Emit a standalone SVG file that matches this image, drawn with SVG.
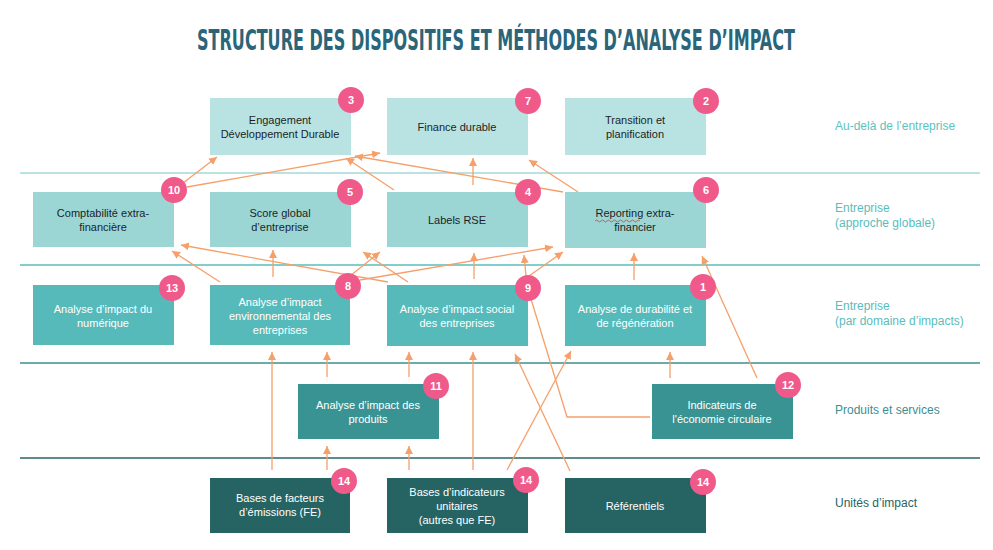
<svg xmlns="http://www.w3.org/2000/svg" width="993" height="550" viewBox="0 0 993 550">
<defs>
<marker id="ah" markerUnits="userSpaceOnUse" markerWidth="9" markerHeight="9" refX="8" refY="4" orient="auto">
<path d="M0,0 L8,4 L0,8 z" fill="#f5a06a"/>
</marker>
<style>
.t{font-family:"Liberation Sans",Arial,sans-serif;font-size:11px;text-anchor:middle}
.dk{fill:#1e1e1e}
.wh{fill:#ffffff}
.r1{fill:#b9e3e3}.r2{fill:#9bd6d5}.r3{fill:#56baba}.r4{fill:#3a9393}.r5{fill:#266464}
.bd circle{fill:#ef5a8a}
.bd text{font-family:"Liberation Sans",Arial,sans-serif;font-size:11px;font-weight:bold;fill:#fff;text-anchor:middle}
.c{fill:none;stroke:#f5a06a;stroke-width:1.3}
.a{marker-end:url(#ah)}
.lab{font-family:"Liberation Sans",Arial,sans-serif;font-size:12px}
.sep{stroke-width:1.5}
</style>
</defs>
<rect width="993" height="550" fill="#ffffff"/>
<text x="496" y="50" text-anchor="middle" font-family="'DejaVu Sans Condensed','Liberation Sans Narrow',sans-serif" font-stretch="condensed" font-weight="bold" font-size="28" fill="#2a657a" textLength="598" lengthAdjust="spacingAndGlyphs">STRUCTURE DES DISPOSITIFS ET MÉTHODES D’ANALYSE D’IMPACT</text>
<g id="separators">
<line class="sep" x1="20" y1="173" x2="980" y2="173" stroke="#a3d9d7"/>
<line class="sep" x1="20" y1="265" x2="980" y2="265" stroke="#5bbcbc"/>
<line class="sep" x1="20" y1="363" x2="980" y2="363" stroke="#3c8f8f"/>
<line class="sep" x1="20" y1="458" x2="980" y2="458" stroke="#2a6464"/>
</g>
<g id="levels" class="lab">
<text x="835" y="130" fill="#5cc3c0">Au-delà de l’entreprise</text>
<text x="835" y="212" fill="#5bbcbc">Entreprise</text>
<text x="835" y="227" fill="#5bbcbc">(approche globale)</text>
<text x="835" y="310" fill="#5bbcbc">Entreprise</text>
<text x="835" y="325" fill="#5bbcbc">(par domaine d’impacts)</text>
<text x="835" y="414" fill="#3a8f8f">Produits et services</text>
<text x="835" y="507" fill="#266464">Unités d’impact</text>
</g>
<g id="connectors">
<path class="c a" d="M183,183 L217,157"/>
<path class="c a" d="M187,187 L380,153"/>
<path class="c a" d="M394,190 L346,158"/>
<path class="c a" d="M563,192 L355,156"/>
<path class="c a" d="M473,185 L473,158"/>
<path class="c a" d="M578,192 L529,160"/>
<path class="c a" d="M220,282 L172,251"/>
<path class="c a" d="M388,282 L181,245"/>
<path class="c a" d="M273,277 L273,250"/>
<path class="c a" d="M408,282 L363,252"/>
<path class="c a" d="M350,276 L380,252"/>
<path class="c a" d="M360,280 L553,247"/>
<path class="c a" d="M474,279 L474,253"/>
<path class="c a" d="M526,276 L524,255"/>
<path class="c a" d="M529,276 L563,252"/>
<path class="c a" d="M634,280 L634,253"/>
<path class="c a" d="M757,378 L702,256"/>
<path class="c a" d="M272,470 L272,352"/>
<path class="c a" d="M327,377 L327,352"/>
<path class="c a" d="M409,377 L409,352"/>
<path class="c a" d="M473,470 L473,352"/>
<path class="c a" d="M570,471 L515,354"/>
<path class="c" d="M531,299 L567,417 L650,417"/>
<path class="c a" d="M507,470 L571,351"/>
<path class="c a" d="M670,378 L670,352"/>
<path class="c a" d="M327,470 L327,446"/>
<path class="c a" d="M409,470 L409,446"/>
</g>
<g id="n3"><rect class="r1" x="210" y="98" width="141" height="57"/><text class="t dk" x="280" y="124">Engagement</text><text class="t dk" x="280" y="138">Développement Durable</text><g class="bd"><circle cx="351" cy="100" r="13"/><text x="351" y="104">3</text></g></g>
<g id="n7"><rect class="r1" x="387" y="98" width="141" height="57"/><text class="t dk" x="457" y="131">Finance durable</text><g class="bd"><circle cx="528" cy="101" r="13"/><text x="528" y="105">7</text></g></g>
<g id="n2"><rect class="r1" x="565" y="98" width="141" height="57"/><text class="t dk" x="635" y="124">Transition et</text><text class="t dk" x="635" y="138">planification</text><g class="bd"><circle cx="706" cy="101" r="13"/><text x="706" y="105">2</text></g></g>
<g id="n10"><rect class="r2" x="33" y="192" width="141" height="55"/><text class="t dk" x="103" y="217">Comptabilité extra-</text><text class="t dk" x="103" y="231">financière</text><g class="bd"><circle cx="174" cy="190" r="13"/><text x="174" y="194">10</text></g></g>
<g id="n5"><rect class="r2" x="210" y="192" width="141" height="55"/><text class="t dk" x="280" y="217">Score global</text><text class="t dk" x="280" y="231">d’entreprise</text><g class="bd"><circle cx="350" cy="192" r="13"/><text x="350" y="196">5</text></g></g>
<g id="n4"><rect class="r2" x="387" y="192" width="141" height="55"/><text class="t dk" x="457" y="224">Labels RSE</text><g class="bd"><circle cx="528" cy="192" r="13"/><text x="528" y="196">4</text></g></g>
<g id="n6"><rect class="r2" x="565" y="192" width="141" height="56"/><text class="t dk" x="635" y="217">Reporting extra-</text><text class="t dk" x="635" y="231">financier</text><path d="M595,221 q1.5,-2 3,0 t3,0 t3,0 t3,0 t3,0 t3,0 t3,0 t3,0 t3,0 t3,0 t3,0 t3,0 t3,0 t3,0 t3,0" fill="none" stroke="#e03a3a" stroke-width="0.8"/><g class="bd"><circle cx="706" cy="190" r="13"/><text x="706" y="194">6</text></g></g>
<g id="n13"><rect class="r3" x="33" y="285" width="141" height="60"/><text class="t wh" x="103" y="313">Analyse d’impact du</text><text class="t wh" x="103" y="327">numérique</text><g class="bd"><circle cx="172" cy="288" r="13"/><text x="172" y="292">13</text></g></g>
<g id="n8"><rect class="r3" x="210" y="285" width="140" height="60"/><text class="t wh" x="280" y="306">Analyse d’impact</text><text class="t wh" x="280" y="320">environnemental des</text><text class="t wh" x="280" y="334">entreprises</text><g class="bd"><circle cx="348" cy="286" r="13"/><text x="348" y="290">8</text></g></g>
<g id="n9"><rect class="r3" x="387" y="285" width="141" height="61"/><text class="t wh" x="457" y="313">Analyse d’impact social</text><text class="t wh" x="457" y="327">des entreprises</text><g class="bd"><circle cx="528" cy="288" r="13"/><text x="528" y="292">9</text></g></g>
<g id="n1"><rect class="r3" x="565" y="285" width="141" height="61"/><text class="t wh" x="635" y="313">Analyse de durabilité et</text><text class="t wh" x="635" y="327">de régénération</text><g class="bd"><circle cx="703" cy="287" r="13"/><text x="703" y="291">1</text></g></g>
<g id="n11"><rect class="r4" x="298" y="384" width="141" height="55"/><text class="t wh" x="368" y="409">Analyse d’impact des</text><text class="t wh" x="368" y="423">produits</text><g class="bd"><circle cx="436" cy="386" r="13"/><text x="436" y="390">11</text></g></g>
<g id="n12"><rect class="r4" x="652" y="384" width="141" height="55"/><text class="t wh" x="722" y="409">Indicateurs de</text><text class="t wh" x="722" y="423">l'économie circulaire</text><g class="bd"><circle cx="788" cy="385" r="13"/><text x="788" y="389">12</text></g></g>
<g id="n14a"><rect class="r5" x="210" y="478" width="140" height="55"/><text class="t wh" x="280" y="502">Bases de facteurs</text><text class="t wh" x="280" y="516">d’émissions (FE)</text><g class="bd"><circle cx="344" cy="481" r="13"/><text x="344" y="485">14</text></g></g>
<g id="n14b"><rect class="r5" x="387" y="478" width="141" height="55"/><text class="t wh" x="457" y="496">Bases d’indicateurs</text><text class="t wh" x="457" y="510">unitaires</text><text class="t wh" x="457" y="524">(autres que FE)</text><g class="bd"><circle cx="526" cy="480" r="13"/><text x="526" y="484">14</text></g></g>
<g id="n14c"><rect class="r5" x="565" y="478" width="141" height="55"/><text class="t wh" x="635" y="510">Référentiels</text><g class="bd"><circle cx="703" cy="482" r="13"/><text x="703" y="486">14</text></g></g>
</svg>
